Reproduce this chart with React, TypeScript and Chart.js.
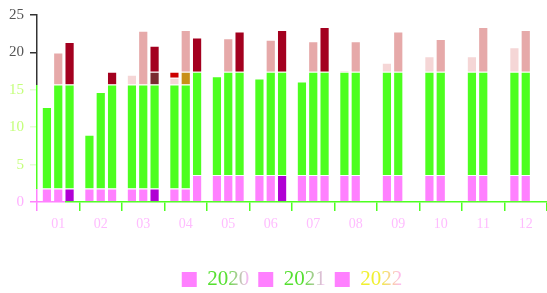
import React, { useEffect, useRef } from 'react';
import { Chart, registerables } from 'chart.js';

Chart.register(...registerables);

// ---- data ----
const months = ['01', '02', '03', '04', '05', '06', '07', '08', '09', '10', '11', '12'];
const years = ['2020', '2021', '2022'];
const yTickValues = [0, 5, 10, 15, 20, 25];

// 2020 stack (segment heights)
const pink2020 = [1.8, 1.8, 1.8, 1.8, 3.6, 3.6, 3.6, 3.6, 3.6, 3.6, 3.6, 3.6];
const green2020 = [10.9, 7.2, 13.9, 13.9, 13.2, 12.9, 12.5, 13.8, 13.8, 13.8, 13.8, 13.8];
const blush2020 = [null, null, 1.3, 0.9, null, null, null, 0.2, 1.2, 2.1, 2.1, 3.3];
const red2020 = [null, null, null, 0.8, null, null, null, null, null, null, null, null];

// 2021 stack
const pink2021 = [1.8, 1.8, 1.8, 1.8, 3.6, 3.6, 3.6, 3.6, 3.6, 3.6, 3.6, 3.6];
const green2021 = [13.9, 12.9, 13.9, 13.9, 13.8, 13.8, 13.8, 13.8, 13.8, 13.8, 13.8, 13.8];
const mix2021 = [null, null, null, 1.7, null, null, null, null, null, null, null, null];
const salmon2021 = [4.3, null, 7.2, 5.6, 4.5, 4.3, 4.1, 4.1, 5.4, 4.4, 6.0, 5.6];

// 2022 stack
const purple2022 = [1.8, null, 1.8, null, null, 3.6, null, null, null, null, null, null];
const pink2022 = [null, 1.8, null, 3.6, 3.6, null, 3.6, null, null, null, null, null];
const green2022 = [13.9, 13.9, 13.9, 13.8, 13.8, 13.8, 13.8, null, null, null, null, null];
const shade2022 = [null, null, 1.7, null, null, null, null, null, null, null, null, null];
const crimson2022 = [5.7, 1.7, 3.5, 4.6, 5.4, 5.6, 6.0, null, null, null, null, null];

// axis colour break points (values)
const greenTopValue = 15.7;
const pinkTopValue = 1.8;

const PINK = '#ff80ff';
const GREEN = '#4dff1f';
const SALMON = '#e6a9a9';
const BLUSH = '#f5d6d6';
const CRIMSON = '#a3001f';
const PURPLE = '#b000d4';
const DARK = '#333333';

const legendTextColors = [
  ['#55e030', '#ffb8ff'],
  ['#55e030', '#ffb8ff'],
  ['#f0f030', '#ffb8ff'],
];

function ds(label: string, data: (number | null)[], color: string, stack: string) {
  return {
    label,
    data,
    stack,
    backgroundColor: color,
    borderColor: 'rgba(255,255,255,0.85)',
    borderWidth: 1,
  };
}

const legendGradientPlugin = {
  id: 'legendGradient',
  beforeDraw(chart: any) {
    const lg = chart.legend;
    if (!lg || !lg.legendItems || !lg.legendHitBoxes) return;
    const ctx = chart.ctx;
    lg.legendItems.forEach((item: any, i: number) => {
      const hb = lg.legendHitBoxes[i];
      if (!hb) return;
      const x0 = hb.left + 25;
      const x1 = hb.left + hb.width;
      const g = ctx.createLinearGradient(x0, 0, x1, 0);
      const [a, b] = legendTextColors[i % legendTextColors.length];
      g.addColorStop(0, a);
      g.addColorStop(0.45, a);
      g.addColorStop(1, b);
      item.fontColor = g;
    });
  },
};

export default function App() {
  const ref = useRef<HTMLCanvasElement>(null);

  useEffect(() => {
    document.body.style.margin = '0';
    Chart.defaults.font.family = "'Liberation Serif', serif";
    const canvas = ref.current;
    if (!canvas) return;

    const chart = new Chart(canvas, {
      type: 'bar',
      data: {
        labels: months,
        datasets: [
          ds('pink2020', pink2020, PINK, years[0]),
          ds('green2020', green2020, GREEN, years[0]),
          ds('blush2020', blush2020, BLUSH, years[0]),
          ds('red2020', red2020, '#cc0000', years[0]),
          ds('pink2021', pink2021, PINK, years[1]),
          ds('green2021', green2021, GREEN, years[1]),
          ds('mix2021', mix2021, '#c89018', years[1]),
          ds('salmon2021', salmon2021, SALMON, years[1]),
          ds('purple2022', purple2022, PURPLE, years[2]),
          ds('pink2022', pink2022, PINK, years[2]),
          ds('green2022', green2022, GREEN, years[2]),
          ds('shade2022', shade2022, '#7a2a30', years[2]),
          ds('crimson2022', crimson2022, CRIMSON, years[2]),
        ] as any,
      },
      options: {
        animation: false,
        responsive: false,
        maintainAspectRatio: false,
        layout: { padding: { left: 3, right: 0, top: 10, bottom: -7 } },
        plugins: {
          tooltip: { enabled: false },
          legend: {
            position: 'bottom',
            fullSize: false,
            onClick: () => {},
            labels: {
              font: { size: 21 },
              boxWidth: 15,
              boxHeight: 15,
              padding: 9,
              useBorderRadius: true,
              borderRadius: 4,
              generateLabels: () =>
                years.map((y, i) => ({
                  text: y,
                  fillStyle: PINK,
                  strokeStyle: PINK,
                  lineWidth: 0,
                  hidden: false,
                  datasetIndex: i,
                  fontColor: '#88ee66',
                })),
            },
          },
        },
        scales: {
          x: {
            stacked: true,
            afterFit: (scale: any) => {
              scale.height = 58;
            },
            grid: {
              offset: true,
              drawOnChartArea: false,
              tickLength: 9,
              lineWidth: 1.5,
              color: (c: any) => (c.index === 0 ? PINK : GREEN),
            },
            border: {
              width: 1.5,
              color: (c: any) => {
                const s = c.scale;
                const area = c.chart.chartArea;
                if (!s || !area) return GREEN;
                const g = c.chart.ctx.createLinearGradient(area.left, 0, area.right, 0);
                const f = Math.min(1, Math.max(0, (s.getPixelForValue(0.17) - area.left) / (area.right - area.left)));
                g.addColorStop(0, PINK);
                g.addColorStop(f, PINK);
                g.addColorStop(f, GREEN);
                g.addColorStop(1, GREEN);
                return g;
              },
            },
            ticks: {
              color: '#ffbcff',
              font: { size: 14 },
              padding: 5,
            },
          },
          y: {
            stacked: true,
            min: 0,
            max: 25,
            afterBuildTicks: (axis: any) => {
              axis.ticks = yTickValues.map((v) => ({ value: v }));
            },
            grid: {
              drawOnChartArea: false,
              tickLength: 7,
              lineWidth: 1.5,
              color: (c: any) => {
                const v = c.tick ? c.tick.value : 0;
                if (v >= 20) return DARK;
                if (v === 0) return PINK;
                return 'rgba(200,255,170,0.5)';
              },
            },
            border: {
              width: 1.5,
              color: (c: any) => {
                const s = c.scale;
                const area = c.chart.chartArea;
                if (!s || !area) return DARK;
                const top = area.top;
                const bot = area.bottom;
                const g = c.chart.ctx.createLinearGradient(0, top, 0, bot);
                const f = (v: number) => Math.min(1, Math.max(0, (s.getPixelForValue(v) - top) / (bot - top)));
                g.addColorStop(0, DARK);
                g.addColorStop(f(greenTopValue), DARK);
                g.addColorStop(f(greenTopValue), GREEN);
                g.addColorStop(f(pinkTopValue), GREEN);
                g.addColorStop(f(pinkTopValue), PINK);
                g.addColorStop(1, PINK);
                return g;
              },
            },
            ticks: {
              font: { size: 15 },
              padding: 6,
              color: (c: any) => {
                const v = c.tick ? c.tick.value : 0;
                if (v >= 20) return '#555555';
                if (v === 0) return '#ffb0ff';
                return '#c4ff7a';
              },
            },
          },
        },
      } as any,
      plugins: [legendGradientPlugin],
    });

    return () => chart.destroy();
  }, []);

  return <canvas ref={ref} width={547} height={293} style={{ display: 'block' }} />;
}
